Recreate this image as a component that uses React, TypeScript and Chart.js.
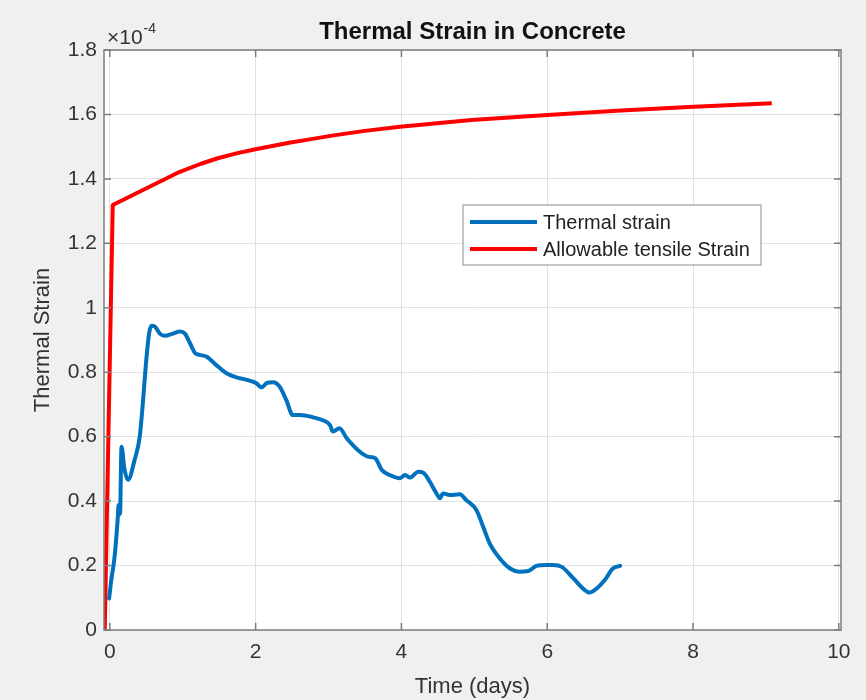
import React, { useEffect, useRef } from "react";
import { Chart, registerables } from "chart.js";

Chart.register(...registerables);

// Thermal strain (×1e-4) vs time (days)
const thermalTime = [
  -0.01, 0.02, 0.05, 0.07, 0.11, 0.12, 0.14, 0.16, 0.2, 0.25, 0.34, 0.41, 0.46, 0.5, 0.54, 0.57,
  0.62, 0.69, 0.75, 0.87, 0.96, 1.03, 1.1, 1.17, 1.23, 1.33, 1.46, 1.6, 1.74, 1.88, 2.01,
  2.08, 2.15, 2.24, 2.33, 2.42, 2.51, 2.61, 2.79, 2.93, 3.02, 3.06, 3.15, 3.25, 3.43, 3.54,
  3.64, 3.73, 3.84, 3.98, 4.05, 4.12, 4.23, 4.3, 4.39, 4.48, 4.53, 4.57, 4.66, 4.8, 4.89,
  5.03, 5.12, 5.21, 5.35, 5.49, 5.62, 5.74, 5.85, 5.99, 6.08, 6.2, 6.36, 6.49, 6.58, 6.68,
  6.79, 6.9, 7.0,
];
const thermalStrain = [
  0.098, 0.155, 0.2, 0.238, 0.352, 0.388, 0.36, 0.569, 0.5, 0.466, 0.528, 0.6, 0.724, 0.838, 0.922, 0.944,
  0.941, 0.919, 0.913, 0.92, 0.926, 0.92, 0.89, 0.859, 0.854, 0.848, 0.822, 0.797, 0.784, 0.776, 0.766,
  0.753, 0.766, 0.769, 0.755, 0.714, 0.667, 0.667, 0.66, 0.65, 0.636, 0.616, 0.626, 0.595, 0.553, 0.538,
  0.533, 0.497, 0.481, 0.471, 0.481, 0.473, 0.491, 0.488, 0.46, 0.424, 0.409, 0.424, 0.419, 0.421, 0.403,
  0.372, 0.321, 0.269, 0.222, 0.191, 0.181, 0.183, 0.199, 0.202, 0.202, 0.196, 0.16, 0.129, 0.116, 0.129,
  0.155, 0.191, 0.199,
];

// Allowable tensile strain (×1e-4) vs time (days)
const allowableTime = [-0.07, 0.04, 0.96, 1.25, 1.48, 1.75, 2.0, 2.46, 2.7, 3.07, 3.5, 3.98, 4.96, 6.0, 7.01, 8.01, 9.08];
const allowableStrain = [0, 1.319, 1.422, 1.447, 1.464, 1.48, 1.492, 1.512, 1.521, 1.535, 1.549, 1.562, 1.583, 1.598, 1.612, 1.624, 1.635];

const xTicks = [0, 2, 4, 6, 8, 10];
const yTicks = [0, 0.2, 0.4, 0.6, 0.8, 1, 1.2, 1.4, 1.6, 1.8];

const chartTitle = "Thermal Strain in Concrete";
const xTitle = "Time (days)";
const yTitle = "Thermal Strain";
const FONT = "'Liberation Sans', Arial, Helvetica, sans-serif";

const decorPlugin = {
  id: "matlabDecor",
  beforeDraw(chart: any) {
    const { ctx, chartArea: ca, width, height } = chart;
    ctx.save();
    ctx.fillStyle = "#f0f0f0";
    ctx.fillRect(0, 0, width, height);
    ctx.fillStyle = "#ffffff";
    ctx.fillRect(ca.left, ca.top, ca.right - ca.left, ca.bottom - ca.top);
    ctx.restore();
  },
  afterDraw(chart: any) {
    const { ctx, chartArea: ca } = chart;
    const xs = chart.scales.x;
    const ys = chart.scales.y;
    ctx.save();
    // axes box
    ctx.strokeStyle = "#7d7d7d";
    ctx.lineWidth = 1.5;
    ctx.strokeRect(ca.left, ca.top, ca.right - ca.left, ca.bottom - ca.top);
    // inward ticks
    const tl = 7;
    ctx.beginPath();
    xTicks.forEach((v) => {
      const px = xs.getPixelForValue(v);
      ctx.moveTo(px, ca.bottom);
      ctx.lineTo(px, ca.bottom - tl);
      ctx.moveTo(px, ca.top);
      ctx.lineTo(px, ca.top + tl);
    });
    yTicks.forEach((v) => {
      const py = ys.getPixelForValue(v);
      ctx.moveTo(ca.left, py);
      ctx.lineTo(ca.left + tl, py);
      ctx.moveTo(ca.right, py);
      ctx.lineTo(ca.right - tl, py);
    });
    ctx.stroke();

    // title
    ctx.fillStyle = "#111";
    ctx.font = `bold 24px ${FONT}`;
    ctx.textAlign = "center";
    ctx.textBaseline = "alphabetic";
    ctx.fillText(chartTitle, (ca.left + ca.right) / 2, 39);

    // exponent label
    ctx.fillStyle = "#333";
    ctx.textAlign = "left";
    ctx.font = `21px ${FONT}`;
    ctx.fillText("\u00d710", ca.left + 3, 44);
    const w = ctx.measureText("\u00d710").width;
    ctx.font = `14px ${FONT}`;
    ctx.fillText("-4", ca.left + 3 + w + 1, 33);

    // axis titles
    ctx.font = `22px ${FONT}`;
    ctx.textAlign = "center";
    ctx.textBaseline = "middle";
    ctx.fillText(xTitle, (ca.left + ca.right) / 2, 687);
    ctx.save();
    ctx.translate(43, (ca.top + ca.bottom) / 2);
    ctx.rotate(-Math.PI / 2);
    ctx.fillText(yTitle, 0, 0);
    ctx.restore();

    // legend
    const lx = 463, ly = 205, lw = 298, lh = 60;
    ctx.fillStyle = "#ffffff";
    ctx.fillRect(lx, ly, lw, lh);
    ctx.strokeStyle = "#8c8c8c";
    ctx.lineWidth = 1;
    ctx.strokeRect(lx, ly, lw, lh);
    chart.data.datasets.forEach((ds: any, i: number) => {
      const yy = ly + 17 + i * 27;
      ctx.strokeStyle = ds.borderColor;
      ctx.lineWidth = 4;
      ctx.beginPath();
      ctx.moveTo(lx + 7, yy);
      ctx.lineTo(lx + 74, yy);
      ctx.stroke();
      ctx.fillStyle = "#222";
      ctx.font = `20px ${FONT}`;
      ctx.textAlign = "left";
      ctx.textBaseline = "middle";
      ctx.fillText(ds.label, lx + 80, yy + 1);
    });
    ctx.restore();
  },
};

export default function App() {
  const ref = useRef<HTMLCanvasElement | null>(null);
  useEffect(() => {
    document.body.style.margin = "0";
    if (!ref.current) return;
    const chart = new Chart(ref.current, {
      type: "line",
      data: {
        datasets: [
          {
            label: "Thermal strain",
            data: thermalTime.map((t, i) => ({ x: t, y: thermalStrain[i] })),
            borderColor: "#0072BD",
            borderWidth: 4,
            pointRadius: 0,
            cubicInterpolationMode: "monotone",
            borderJoinStyle: "round",
            borderCapStyle: "round",
          },
          {
            label: "Allowable tensile Strain",
            data: allowableTime.map((t, i) => ({ x: t, y: allowableStrain[i] })),
            borderColor: "#FF0000",
            borderWidth: 4,
            pointRadius: 0,
            tension: 0,
            borderJoinStyle: "round",
          },
        ],
      },
      options: {
        animation: false,
        responsive: true,
        maintainAspectRatio: false,
        layout: { padding: { top: 50, right: 25, left: 0, bottom: 0 } },
        plugins: { legend: { display: false }, title: { display: false }, tooltip: { enabled: false } },
        scales: {
          x: {
            type: "linear",
            min: -0.08,
            max: 10.03,
            afterBuildTicks: (s: any) => {
              s.ticks = xTicks.map((v) => ({ value: v }));
            },
            afterFit: (s: any) => {
              s.height = 70;
            },
            grid: { color: "#e1e1e1", lineWidth: 1, drawTicks: false },
            border: { display: false },
            ticks: {
              padding: 10,
              color: "#333",
              font: { family: FONT, size: 21 },
              callback: (v: any) => String(v),
              maxRotation: 0,
            },
          },
          y: {
            type: "linear",
            min: 0,
            max: 1.8,
            afterBuildTicks: (s: any) => {
              s.ticks = yTicks.map((v) => ({ value: v }));
            },
            afterFit: (s: any) => {
              s.width = 104;
            },
            grid: { color: "#e1e1e1", lineWidth: 1, drawTicks: false },
            border: { display: false },
            ticks: {
              padding: 7,
              color: "#333",
              font: { family: FONT, size: 21 },
              callback: (v: any) => String(Math.round(Number(v) * 10) / 10),
            },
          },
        },
      },
      plugins: [decorPlugin],
    } as any);
    return () => chart.destroy();
  }, []);
  return (
    <div style={{ width: 866, height: 700, position: "relative" }}>
      <canvas ref={ref} />
    </div>
  );
}
